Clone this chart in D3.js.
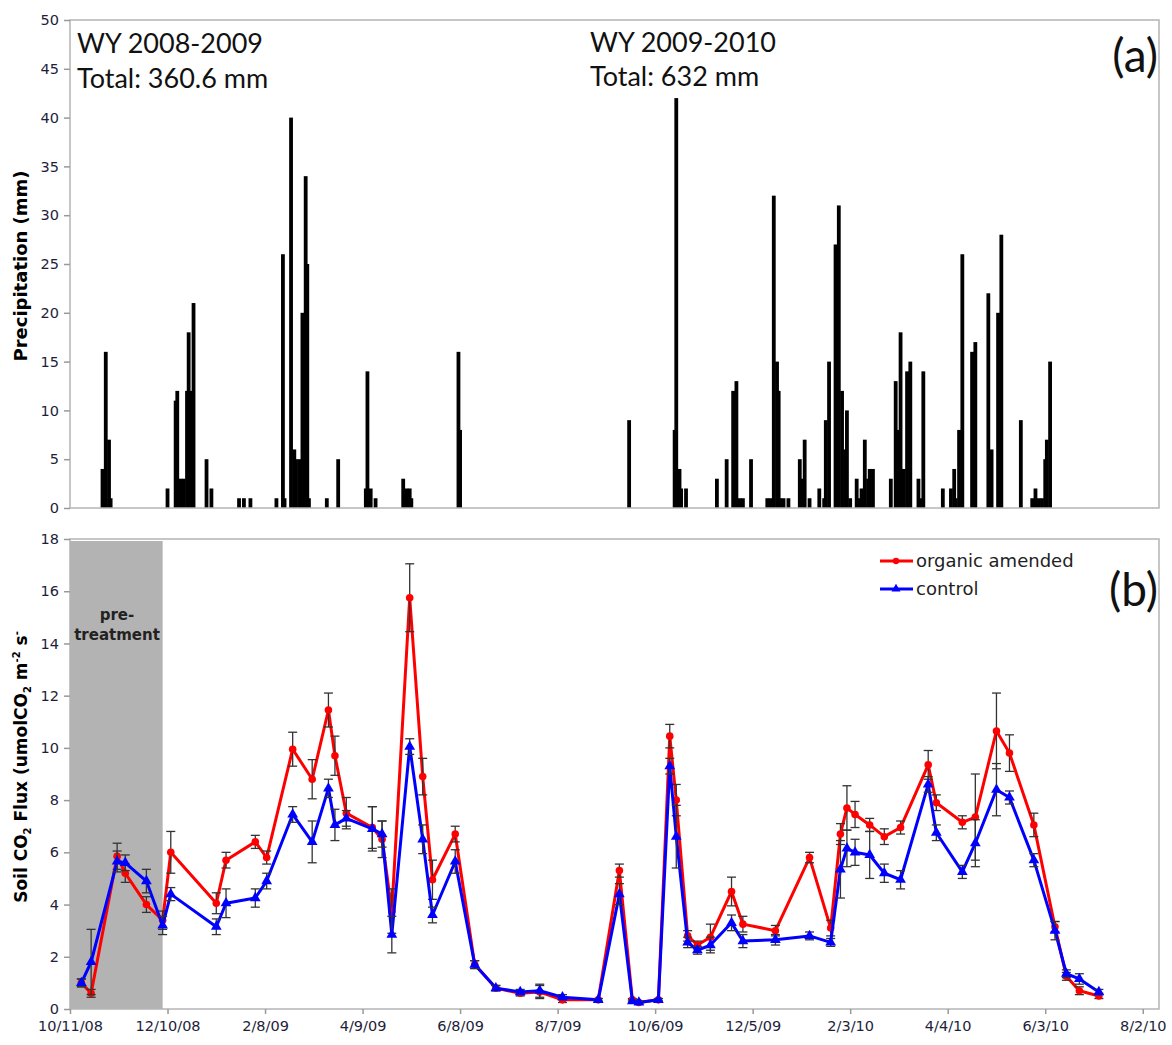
<!doctype html>
<html>
<head>
<meta charset="utf-8">
<style>
  body { margin: 0; background: #fff; }
  text { font-family: "DejaVu Sans", Verdana, sans-serif; }
  .tick text { fill: #1e1e3a; }
</style>
</head>
<body>
<script src="https://cdn.jsdelivr.net/npm/d3@7"></script>
<script>
var width = 1172,
    height = 1045;

// daily precipitation (mm), panel (a)
var rainDates = [
  '2008-10-31','2008-11-02','2008-11-04','2008-11-05','2008-12-10','2008-12-15','2008-12-16','2008-12-18',
  '2008-12-20','2008-12-22','2008-12-23','2008-12-25','2008-12-26','2009-01-03','2009-01-06','2009-01-23',
  '2009-01-26','2009-01-30','2009-02-15','2009-02-19','2009-02-20','2009-02-24','2009-02-26','2009-02-27',
  '2009-03-01','2009-03-03','2009-03-05','2009-03-06','2009-03-07','2009-03-18','2009-03-25','2009-04-11',
  '2009-04-12','2009-04-14','2009-04-17','2009-05-04','2009-05-06','2009-05-08','2009-05-09','2009-06-07',
  '2009-06-08','2009-09-20','2009-10-18','2009-10-19','2009-10-21','2009-10-22','2009-10-25','2009-11-13',
  '2009-11-19','2009-11-23','2009-11-25','2009-11-27','2009-11-29','2009-12-04','2009-12-14','2009-12-16',
  '2009-12-18','2009-12-20','2009-12-21','2009-12-22','2009-12-24','2009-12-27','2010-01-03','2010-01-04',
  '2010-01-06','2010-01-09','2010-01-15','2010-01-18','2010-01-19','2010-01-21','2010-01-25','2010-01-27',
  '2010-01-29','2010-01-31','2010-02-01','2010-02-03','2010-02-07','2010-02-09','2010-02-10','2010-02-12',
  '2010-02-14','2010-02-15','2010-02-17','2010-02-28','2010-03-03','2010-03-04','2010-03-06','2010-03-08',
  '2010-03-10','2010-03-12','2010-03-17','2010-03-18','2010-03-20','2010-04-01','2010-04-06','2010-04-08',
  '2010-04-09','2010-04-11','2010-04-13','2010-04-19','2010-04-21','2010-04-29','2010-05-01','2010-05-05',
  '2010-05-07','2010-05-19','2010-05-26','2010-05-28','2010-05-30','2010-06-01','2010-06-03','2010-06-04',
  '2010-06-06'
];
var rainMm = [
  4, 16, 7, 1, 2, 11, 12, 3,
  3, 12, 18, 12, 21, 5, 2, 1,
  1, 1, 1, 26, 1, 40, 6, 5,
  5, 20, 34, 25, 1, 1, 5, 2,
  14, 2, 1, 3, 2, 2, 1, 16,
  8, 9, 8, 42, 4, 2, 2, 3,
  5, 12, 13, 1, 1, 5, 1, 1,
  32, 15, 12, 1, 1, 1, 5, 3,
  7, 1, 2, 1, 9, 15, 27, 31,
  12, 6, 10, 1, 3, 1, 2, 7,
  3, 4, 4, 3, 13, 8, 18, 4,
  14, 15, 3, 1, 14, 2, 2, 4,
  1, 8, 26, 16, 17, 22, 6, 20,
  28, 9, 1, 2, 1, 1, 5, 7,
  15
];

// soil CO2 flux, panel (b)
var fluxDates = [
  '2008-10-18','2008-10-24','2008-11-09','2008-11-14','2008-11-27','2008-12-07','2008-12-12',
  '2009-01-09','2009-01-15','2009-02-02','2009-02-09','2009-02-25','2009-03-09','2009-03-19','2009-03-23','2009-03-30',
  '2009-04-15','2009-04-21','2009-04-27','2009-05-08','2009-05-16','2009-05-22','2009-06-05','2009-06-17','2009-06-30',
  '2009-07-15','2009-07-27','2009-08-10','2009-09-01','2009-09-14','2009-09-22','2009-09-26','2009-10-08','2009-10-15','2009-10-19',
  '2009-10-26','2009-11-01','2009-11-09','2009-11-22','2009-11-29','2009-12-19','2010-01-09','2010-01-22','2010-01-28',
  '2010-02-01','2010-02-06','2010-02-15','2010-02-24','2010-03-06','2010-03-23','2010-03-28','2010-04-13','2010-04-21',
  '2010-05-04','2010-05-12','2010-05-27','2010-06-09','2010-06-16','2010-06-24','2010-07-06'
];
var amended = [
  1.0, 0.6, 5.85, 5.2, 4.0, 3.4, 6.0,
  4.05, 5.7, 6.4, 5.8, 9.95, 8.8, 11.45, 9.7, 7.5,
  6.95, 6.5, 3.75, 15.75, 8.9, 4.95, 6.7, 1.7, 0.8,
  0.6, 0.65, 0.35, 0.35, 5.3, 0.35, 0.25, 0.35, 10.45, 8.0,
  2.8, 2.45, 2.75, 4.5, 3.25, 3.0, 5.8, 3.1, 6.7,
  7.7, 7.45, 7.05, 6.6, 6.95, 9.35, 7.9, 7.15, 7.35,
  10.65, 9.8, 7.05, 3.15, 1.25, 0.7, 0.5
];
var amendedErr = [
  0.15, 0.15, 0.5, 0.35, 0.3, 0.35, 0.8,
  0.4, 0.3, 0.25, 0.25, 0.65, 0.75, 0.65, 0.75, 0.6,
  0.8, 0.7, 0.85, 1.3, 0.7, 0.75, 0.3, 0.15, 0.1,
  0.1, 0.25, 0.1, 0.05, 0.25, 0.05, 0.05, 0.05, 0.45, 0.6,
  0.2, 0.15, 0.5, 0.55, 0.3, 0.2, 0.2, 0.3, 0.4,
  0.85, 0.5, 0.25, 0.3, 0.25, 0.55, 0.3, 0.25, 1.65,
  1.45, 0.7, 0.45, 0.2, 0.15, 0.15, 0.1
];
var control = [
  1.0, 1.8, 5.65, 5.6, 4.9, 3.2, 4.4,
  3.15, 4.05, 4.25, 4.9, 7.45, 6.4, 8.45, 7.05, 7.3,
  6.9, 6.7, 2.85, 10.05, 6.5, 3.6, 5.65, 1.7, 0.8,
  0.65, 0.7, 0.45, 0.35, 4.4, 0.3, 0.25, 0.35, 9.3, 6.6,
  2.55, 2.25, 2.45, 3.3, 2.6, 2.65, 2.8, 2.55, 5.35,
  6.15, 6.0, 5.9, 5.2, 4.95, 8.6, 6.75, 5.25, 6.35,
  8.4, 8.1, 5.7, 3.0, 1.35, 1.15, 0.65
];
var controlErr = [
  0.15, 1.25, 0.4, 0.3, 0.45, 0.35, 0.25,
  0.3, 0.55, 0.35, 0.3, 0.3, 0.8, 0.35, 0.6, 0.3,
  0.85, 0.5, 0.7, 0.3, 0.55, 0.3, 0.45, 0.15, 0.1,
  0.1, 0.25, 0.1, 0.05, 0.4, 0.05, 0.05, 0.05, 0.3, 1.2,
  0.2, 0.15, 0.3, 0.3, 0.25, 0.2, 0.15, 0.15, 1.1,
  0.7, 0.5, 0.9, 0.35, 0.35, 0.3, 0.3, 0.25, 0.9,
  1.0, 0.25, 0.25, 0.35, 0.15, 0.2, 0.1
];

var xTickDates = ['2008-10-11','2008-12-10','2009-02-08','2009-04-09','2009-06-08','2009-08-07',
                  '2009-10-06','2009-12-05','2010-02-03','2010-04-04','2010-06-03','2010-08-02'];
var rainTicks = [0, 5, 10, 15, 20, 25, 30, 35, 40, 45, 50];
var fluxTicks = [0, 2, 4, 6, 8, 10, 12, 14, 16, 18];
var pretreatEnd = '2008-12-07';

var parse = d3.timeParse('%Y-%m-%d');

var svg = d3.select('body').append('svg')
    .attr('width', width)
    .attr('height', height);

svg.append('rect').attr('width', width).attr('height', height).attr('fill', '#fff');

var left = 70, right = 1159;
var x = d3.scaleTime()
    .domain([parse('2008-10-11'), parse('2010-08-12')])
    .range([left, right]);

var yRain = d3.scaleLinear().domain([0, 50]).range([508, 20]);
var yFlux = d3.scaleLinear().domain([0, 18]).range([1009, 539]);

// ---- panel (a): precipitation ----
var rain = rainDates.map(function (d, i) { return {date: parse(d), mm: rainMm[i]}; });

svg.append('g').selectAll('rect')
    .data(rain)
  .enter().append('rect')
    .attr('x', function (d) { return x(d.date) - 1.9; })
    .attr('width', 3.8)
    .attr('y', function (d) { return yRain(d.mm); })
    .attr('height', function (d) { return yRain(0) - yRain(d.mm); })
    .attr('fill', '#000');

svg.append('rect')
    .attr('x', left).attr('y', yRain(50))
    .attr('width', right - left).attr('height', yRain(0) - yRain(50))
    .attr('fill', 'none').attr('stroke', '#b4b4b4').attr('stroke-width', 1.5);

svg.append('g')
    .attr('transform', 'translate(' + left + ',0)')
    .call(d3.axisLeft(yRain).tickValues(rainTicks).tickSize(6).tickPadding(5));

svg.append('text')
    .attr('transform', 'translate(27,266) rotate(-90)')
    .attr('text-anchor', 'middle')
    .style('font-weight', 'bold')
    .style('font-size', '18px')
    .text('Precipitation (mm)');

var note = svg.append('g').style('font-size', '27px').attr('fill', '#111');
function noteText(tx, ty, s) {
  return note.append('text').attr('x', tx).attr('y', ty)
      .style('font-family', 'Lato, "Open Sans", sans-serif').text(s);
}
noteText(77, 53, 'WY 2008-2009');
noteText(77, 88, 'Total: 360.6 mm');
noteText(590, 52, 'WY 2009-2010');
noteText(590, 86, 'Total: 632 mm');
noteText(1158, 72, '(a)').attr('text-anchor', 'end').style('font-size', '46px');

// ---- panel (b): soil CO2 flux ----
svg.append('rect')
    .attr('x', left).attr('y', yFlux(18) + 2)
    .attr('width', x(parse(pretreatEnd)) - left)
    .attr('height', yFlux(0) - yFlux(18) - 2)
    .attr('fill', '#b3b3b3');

svg.append('text').attr('x', 117).attr('y', 620).attr('text-anchor', 'middle')
    .style('font-weight', 'bold').style('font-size', '15px').attr('fill', '#222').text('pre-');
svg.append('text').attr('x', 117).attr('y', 640).attr('text-anchor', 'middle')
    .style('font-weight', 'bold').style('font-size', '15px').attr('fill', '#222').text('treatment');

svg.append('rect')
    .attr('x', left).attr('y', yFlux(18))
    .attr('width', right - left).attr('height', yFlux(0) - yFlux(18))
    .attr('fill', 'none').attr('stroke', '#b4b4b4').attr('stroke-width', 1.5);

svg.append('g')
    .attr('transform', 'translate(' + left + ',0)')
    .call(d3.axisLeft(yFlux).tickValues(fluxTicks).tickSize(6).tickPadding(5));

svg.append('g')
    .attr('transform', 'translate(0,' + yFlux(0) + ')')
    .call(d3.axisBottom(x)
      .tickValues(xTickDates.map(parse))
      .tickFormat(d3.timeFormat('%-m/%-d/%y'))
      .tickSize(5).tickPadding(7));

svg.selectAll('.domain').remove();
svg.selectAll('.tick line').attr('stroke', '#999').attr('stroke-width', 1.5);
svg.selectAll('.tick text').style('font-size', '14.5px');

var ylab = svg.append('text')
    .attr('transform', 'translate(27,767) rotate(-90)')
    .attr('text-anchor', 'middle')
    .style('font-weight', 'bold')
    .style('font-size', '17px');
ylab.append('tspan').text('Soil CO');
ylab.append('tspan').attr('dy', 4).style('font-size', '10px').text('2');
ylab.append('tspan').attr('dy', -4).text(' Flux (umolCO');
ylab.append('tspan').attr('dy', 4).style('font-size', '10px').text('2');
ylab.append('tspan').attr('dy', -4).text(' m');
ylab.append('tspan').attr('dy', -7).style('font-size', '10px').text('-2');
ylab.append('tspan').attr('dy', 7).text(' s');
ylab.append('tspan').attr('dy', -7).style('font-size', '10px').text('-');

var series = [
  {name: 'organic amended', color: '#ff0000', values: amended, err: amendedErr, symbol: d3.symbolCircle, size: 45},
  {name: 'control', color: '#0000ff', values: control, err: controlErr, symbol: d3.symbolTriangle, size: 50}
];

var line = d3.line()
    .x(function (d) { return x(d.date); })
    .y(function (d) { return yFlux(d.v); });

series.forEach(function (s) {
  var pts = fluxDates.map(function (d, i) { return {date: parse(d), v: s.values[i], e: s.err[i]}; });
  var g = svg.append('g');

  g.append('path')
      .datum(pts)
      .attr('d', line)
      .attr('fill', 'none')
      .attr('stroke', s.color)
      .attr('stroke-width', 3)
      .attr('stroke-linejoin', 'round');

  var eb = g.selectAll('.err').data(pts).enter().append('g')
      .attr('stroke', '#333').attr('stroke-width', 1.3);
  eb.append('line')
      .attr('x1', function (d) { return x(d.date); }).attr('x2', function (d) { return x(d.date); })
      .attr('y1', function (d) { return yFlux(d.v + d.e); }).attr('y2', function (d) { return yFlux(d.v - d.e); });
  eb.append('line')
      .attr('x1', function (d) { return x(d.date) - 4.5; }).attr('x2', function (d) { return x(d.date) + 4.5; })
      .attr('y1', function (d) { return yFlux(d.v + d.e); }).attr('y2', function (d) { return yFlux(d.v + d.e); });
  eb.append('line')
      .attr('x1', function (d) { return x(d.date) - 4.5; }).attr('x2', function (d) { return x(d.date) + 4.5; })
      .attr('y1', function (d) { return yFlux(d.v - d.e); }).attr('y2', function (d) { return yFlux(d.v - d.e); });

  g.selectAll('.pt').data(pts).enter().append('path')
      .attr('transform', function (d) { return 'translate(' + x(d.date) + ',' + yFlux(d.v) + ')'; })
      .attr('d', d3.symbol().type(s.symbol).size(s.size))
      .attr('fill', s.color);
});

// legend
var legend = svg.append('g');
series.forEach(function (s, i) {
  var ly = 561 + i * 28;
  legend.append('line').attr('x1', 880).attr('x2', 913).attr('y1', ly).attr('y2', ly)
      .attr('stroke', s.color).attr('stroke-width', 3);
  legend.append('path').attr('transform', 'translate(896,' + ly + ')')
      .attr('d', d3.symbol().type(s.symbol).size(s.size * 0.7)).attr('fill', s.color);
  legend.append('text').attr('x', 916).attr('y', ly + 6)
      .style('font-size', '18px').attr('fill', '#222').text(s.name);
});

svg.append('text').attr('x', 1158).attr('y', 606).attr('text-anchor', 'end')
    .style('font-family', 'Lato, "Open Sans", sans-serif').style('font-size', '46px')
    .attr('fill', '#111').text('(b)');
</script>
</body>
</html>
